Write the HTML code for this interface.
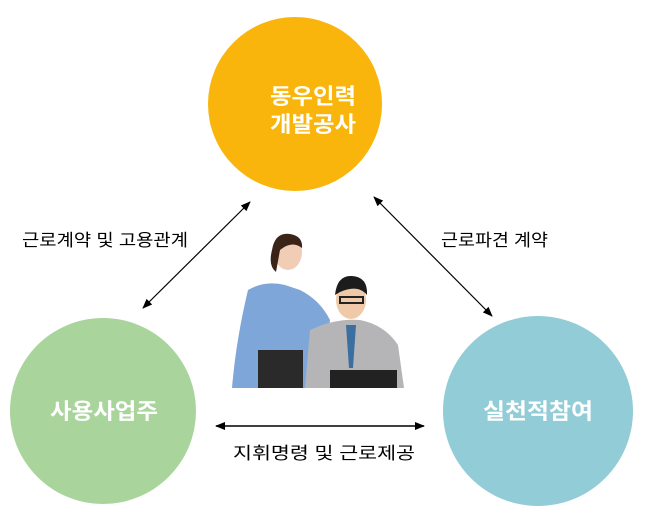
<!DOCTYPE html>
<html><head><meta charset="utf-8"><style>
body{margin:0;background:#fff;}
svg{display:block;font-family:"Liberation Sans","Noto Sans CJK KR",sans-serif;}
</style></head><body>
<svg width="646" height="525" viewBox="0 0 646 525" xmlns="http://www.w3.org/2000/svg">
<defs>
<marker id="a" markerWidth="10" markerHeight="10" refX="9" refY="5" orient="auto-start-reverse" markerUnits="userSpaceOnUse">
<path d="M0,1 L10,5 L0,9 Z" fill="#000"/></marker>
</defs>
<circle cx="295" cy="104" r="87" fill="#f9b50b"/>
<circle cx="103" cy="411" r="93" fill="#a9d49b"/>
<circle cx="538" cy="411" r="95" fill="#92ccd6"/>
<text x="270" y="104" font-size="22" font-weight="bold" fill="#fff" textLength="86" lengthAdjust="spacingAndGlyphs">동우인력</text>
<text x="270" y="132" font-size="22" font-weight="bold" fill="#fff" textLength="86" lengthAdjust="spacingAndGlyphs">개발공사</text>
<text x="50" y="419" font-size="22" font-weight="bold" fill="#fff" textLength="108" lengthAdjust="spacingAndGlyphs">사용사업주</text>
<text x="483" y="419" font-size="22" font-weight="bold" fill="#fff" textLength="110" lengthAdjust="spacingAndGlyphs">실천적참여</text>
<line x1="250" y1="202" x2="143" y2="308" stroke="#000" stroke-width="1.2" marker-start="url(#a)" marker-end="url(#a)"/>
<line x1="374" y1="197" x2="492" y2="316" stroke="#000" stroke-width="1.2" marker-start="url(#a)" marker-end="url(#a)"/>
<line x1="216" y1="426" x2="424" y2="426" stroke="#000" stroke-width="1.5" marker-start="url(#a)" marker-end="url(#a)"/>
<text x="22" y="246" font-size="17" fill="#000" textLength="166" lengthAdjust="spacingAndGlyphs">근로계약 및 고용관계</text>
<text x="441" y="246" font-size="17" fill="#000" textLength="107" lengthAdjust="spacingAndGlyphs">근로파견 계약</text>
<text x="233" y="459" font-size="17" fill="#000" textLength="182" lengthAdjust="spacingAndGlyphs">지휘명령 및 근로제공</text>
<g>
<path d="M248,290 Q265,280 285,285 L300,290 Q320,300 330,320 L320,388 L232,388 Q236,340 248,290Z" fill="#7fa6d8"/>
<rect x="258" y="350" width="45" height="38" fill="#2a2a2a"/>
<ellipse cx="288" cy="252" rx="14" ry="18" fill="#f1cdb6"/>
<path d="M272,250 Q275,232 290,234 Q303,236 302,248 Q292,240 280,250 L276,272 Q268,266 272,250Z" fill="#3a2418"/>
<path d="M310,330 Q335,318 360,320 Q385,325 398,345 L404,388 L305,388Z" fill="#b5b5b8"/>
<ellipse cx="351" cy="300" rx="15" ry="19" fill="#f0c9a8"/>
<path d="M335,295 Q337,275 352,276 Q368,277 367,295 Q358,284 340,292Z" fill="#1c1c1c"/>
<rect x="340" y="297" width="23" height="6" fill="none" stroke="#222" stroke-width="2"/>
<path d="M346,325 L356,325 L353,368 L349,368Z" fill="#3a6fa0"/>
<rect x="330" y="370" width="67" height="18" fill="#222"/>
</g>
</svg>
</body></html>
